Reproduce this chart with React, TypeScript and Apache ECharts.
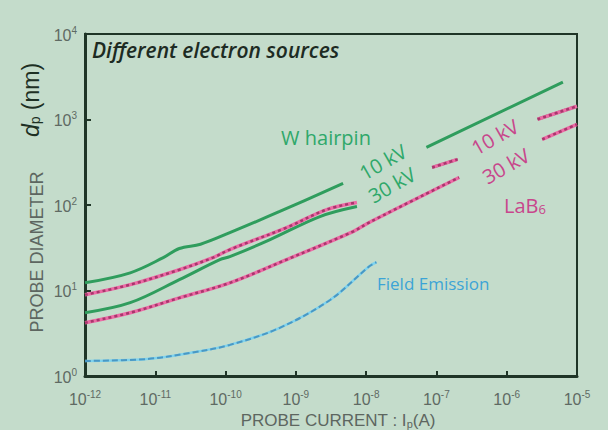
import React, { useEffect, useRef } from "react";
import * as echarts from "echarts";

// Probe current (A) vs probe diameter (nm); null marks a break in the curve.
type Pt = [number, number] | null;

const wHairpin10kV: Pt[] = [
  [1e-12, 12.3], [4.4e-12, 16.1], [1.3e-11, 24.2], [2.2e-11, 31.0], [4.4e-11, 34.8],
  [1.15e-10, 47.5], [5.9e-10, 84], [4.7e-9, 179], null, [7.2e-8, 472], [6.3e-6, 2735],
];

const wHairpin30kV: Pt[] = [
  [1e-12, 5.5], [4.4e-12, 7.2], [2.2e-11, 13.4], [8.3e-11, 23.0], [1.15e-10, 24.9],
  [4.3e-10, 39.4], [2.2e-9, 73.3], [7.4e-9, 96], null, [8.7e-8, 275], [2.0e-7, 342],
  null, [2.75e-6, 1007], [1e-5, 1429],
];

const lab610kV: Pt[] = [
  [1e-12, 8.9], [4.4e-12, 11.7], [2.2e-11, 17.5], [6.6e-11, 24.2], [1.15e-10, 30.1],
  [7.4e-10, 54.5], [2.75e-9, 88.5], [7.4e-9, 107], null, [8.7e-8, 275], [2.0e-7, 342],
  null, [2.75e-6, 1007], [1e-5, 1429],
];

const lab630kV: Pt[] = [
  [1e-12, 4.2], [4.4e-12, 5.5], [2.2e-11, 8.2], [1.15e-10, 12.3], [7.4e-10, 23.0],
  [6.5e-9, 48.9], [1.1e-8, 62.4], [2.1e-7, 210], null, [3.2e-6, 586], [1e-5, 879],
];

const fieldEmission: Pt[] = [
  [1e-12, 1.5], [7.6e-12, 1.58], [3.1e-11, 1.86], [1.15e-10, 2.31], [5.9e-10, 3.66],
  [3.1e-9, 7.8], [1.1e-8, 19.1], [1.4e-8, 21.4],
];

const xRange = [1e-12, 1e-5];
const yRange = [1, 1e4];

const GREEN = "#2f9d5d";
const PINK = "#ec6aa5";
const PINK_DASH = "#a8366c";
const LABEL_GREEN = "#2fa86a";
const LABEL_PINK = "#c8468c";
const AXIS = "#1f3527";
const TICK_TEXT = "#5f6a63";

const toData = (pts: Pt[]) => pts.map((p) => (p ? p : ["-", "-"]));

const powerLabel = (v: number) => `{b|10}{e|${Math.round(Math.log10(v))}}`;
const powerRich = {
  b: { fontSize: 16, fontFamily: "Liberation Sans", color: TICK_TEXT, lineHeight: 18, verticalAlign: "bottom" },
  e: { fontSize: 10, fontFamily: "Liberation Sans", color: TICK_TEXT, lineHeight: 10, verticalAlign: "top" },
};

const lineBase = { type: "line", showSymbol: false, smooth: 0.35, connectNulls: false, silent: true };

export default function App() {
  const ref = useRef<HTMLDivElement>(null);

  useEffect(() => {
    if (!ref.current) return;
    const chart = echarts.init(ref.current, null, { renderer: "svg" });
    const kvFont = '20px "Open Sans"';
    const tilt = 0.52;

    chart.setOption({
      animation: false,
      backgroundColor: "#c4dccb",
      grid: {
        left: 85, top: 34, right: 31, bottom: 54,
        show: true, borderColor: AXIS, borderWidth: 2, backgroundColor: "transparent",
      },
      xAxis: {
        type: "log", logBase: 10, min: xRange[0], max: xRange[1], splitNumber: 7,
        axisLine: { show: true, lineStyle: { color: AXIS, width: 3 } },
        axisTick: { show: true, inside: true, length: 5, lineStyle: { color: AXIS, width: 2 } },
        axisLabel: { formatter: powerLabel, rich: powerRich, fontSize: 16, margin: 13 },
        splitLine: { show: false },
        minorTick: { show: false },
      },
      yAxis: {
        type: "log", logBase: 10, min: yRange[0], max: yRange[1], splitNumber: 4,
        axisLine: { show: true, lineStyle: { color: AXIS, width: 3 } },
        axisTick: { show: true, inside: true, length: 6, lineStyle: { color: AXIS, width: 2 } },
        axisLabel: { formatter: powerLabel, rich: powerRich, fontSize: 16, margin: 8 },
        splitLine: { show: false },
        minorTick: { show: false },
      },
      series: [
        // Field emission: light cyan band with darker dashes
        { ...lineBase, name: "Field Emission", data: toData(fieldEmission), z: 2,
          lineStyle: { color: "#7fd3ee", width: 2.5 } },
        { ...lineBase, name: "Field Emission dash", data: toData(fieldEmission), z: 3,
          lineStyle: { color: "#4a98c4", width: 2, type: [6, 3] } },
        // W hairpin
        { ...lineBase, name: "W hairpin 10 kV", data: toData(wHairpin10kV), z: 4,
          lineStyle: { color: GREEN, width: 3 } },
        { ...lineBase, name: "W hairpin 30 kV", data: toData(wHairpin30kV), z: 4,
          lineStyle: { color: GREEN, width: 3 } },
        // LaB6: pink band with darker dashes on top
        { ...lineBase, name: "LaB6 10 kV", data: toData(lab610kV), z: 5,
          lineStyle: { color: PINK, width: 3.5 } },
        { ...lineBase, name: "LaB6 10 kV dash", data: toData(lab610kV), z: 6,
          lineStyle: { color: PINK_DASH, width: 2.5, type: [3, 3] } },
        { ...lineBase, name: "LaB6 30 kV", data: toData(lab630kV), z: 5,
          lineStyle: { color: PINK, width: 3.5 } },
        { ...lineBase, name: "LaB6 30 kV dash", data: toData(lab630kV), z: 6,
          lineStyle: { color: PINK_DASH, width: 2.5, type: [3, 3] } },
      ],
      graphic: [
        { type: "text", x: 92, y: 50, z: 10,
          style: { text: "Different electron sources", font: 'italic 600 21px "Open Sans"', fill: "#1d2b23", verticalAlign: "middle" } },
        { type: "text", x: 326, y: 137, z: 10,
          style: { text: "W hairpin", font: '20px "Open Sans"', fill: LABEL_GREEN, align: "center", verticalAlign: "middle" } },
        { type: "text", x: 383, y: 162, rotation: tilt, z: 10,
          style: { text: "10 kV", font: kvFont, fill: LABEL_GREEN, align: "center", verticalAlign: "middle" } },
        { type: "text", x: 392, y: 185, rotation: tilt, z: 10,
          style: { text: "30 kV", font: kvFont, fill: LABEL_GREEN, align: "center", verticalAlign: "middle" } },
        { type: "text", x: 495, y: 137, rotation: tilt, z: 10,
          style: { text: "10 kV", font: kvFont, fill: LABEL_PINK, align: "center", verticalAlign: "middle" } },
        { type: "text", x: 506, y: 166, rotation: tilt, z: 10,
          style: { text: "30 kV", font: kvFont, fill: LABEL_PINK, align: "center", verticalAlign: "middle" } },
        { type: "text", x: 525, y: 203, z: 10,
          style: {
            text: "{a|LaB}{s|6}", fill: LABEL_PINK, align: "center", verticalAlign: "middle",
            rich: {
              a: { font: '20px "Open Sans"', fill: LABEL_PINK, lineHeight: 24, verticalAlign: "bottom" },
              s: { font: '13px "Open Sans"', fill: LABEL_PINK, lineHeight: 13, verticalAlign: "bottom" },
            },
          } },
        { type: "text", x: 377, y: 283, z: 10,
          style: { text: "Field Emission", font: '17px "Open Sans"', fill: "#3ca4d6", verticalAlign: "middle" } },
        // Axis titles
        { type: "text", x: 37, y: 252, rotation: Math.PI / 2, z: 10,
          style: { text: "PROBE DIAMETER", font: '18px "Liberation Sans"', fill: "#5d6660", align: "center", verticalAlign: "middle" } },
        { type: "text", x: 29, y: 100, rotation: Math.PI / 2, z: 10,
          style: {
            text: "{d|d}{p|p}{n| (nm)}", fill: "#1d3024", align: "center", verticalAlign: "middle",
            rich: {
              d: { font: 'italic 23px "Liberation Sans"', fill: "#1d3024", lineHeight: 26, verticalAlign: "bottom" },
              p: { font: '14px "Liberation Sans"', fill: "#1d3024", lineHeight: 14, verticalAlign: "bottom" },
              n: { font: '23px "Liberation Sans"', fill: "#1d3024", lineHeight: 26, verticalAlign: "bottom" },
            },
          } },
        { type: "text", x: 338, y: 419, z: 10,
          style: {
            text: "{a|PROBE CURRENT : I}{s|p}{a|(A)}", fill: "#5d6660", align: "center", verticalAlign: "middle",
            rich: {
              a: { font: '17px "Liberation Sans"', fill: "#5d6660", lineHeight: 20, verticalAlign: "bottom" },
              s: { font: '11px "Liberation Sans"', fill: "#5d6660", lineHeight: 12, verticalAlign: "bottom" },
            },
          } },
      ],
    });

    return () => chart.dispose();
  }, []);

  return (
    <div
      ref={ref}
      style={{ position: "fixed", left: 0, top: 0, width: 608, height: 430 }}
    />
  );
}
